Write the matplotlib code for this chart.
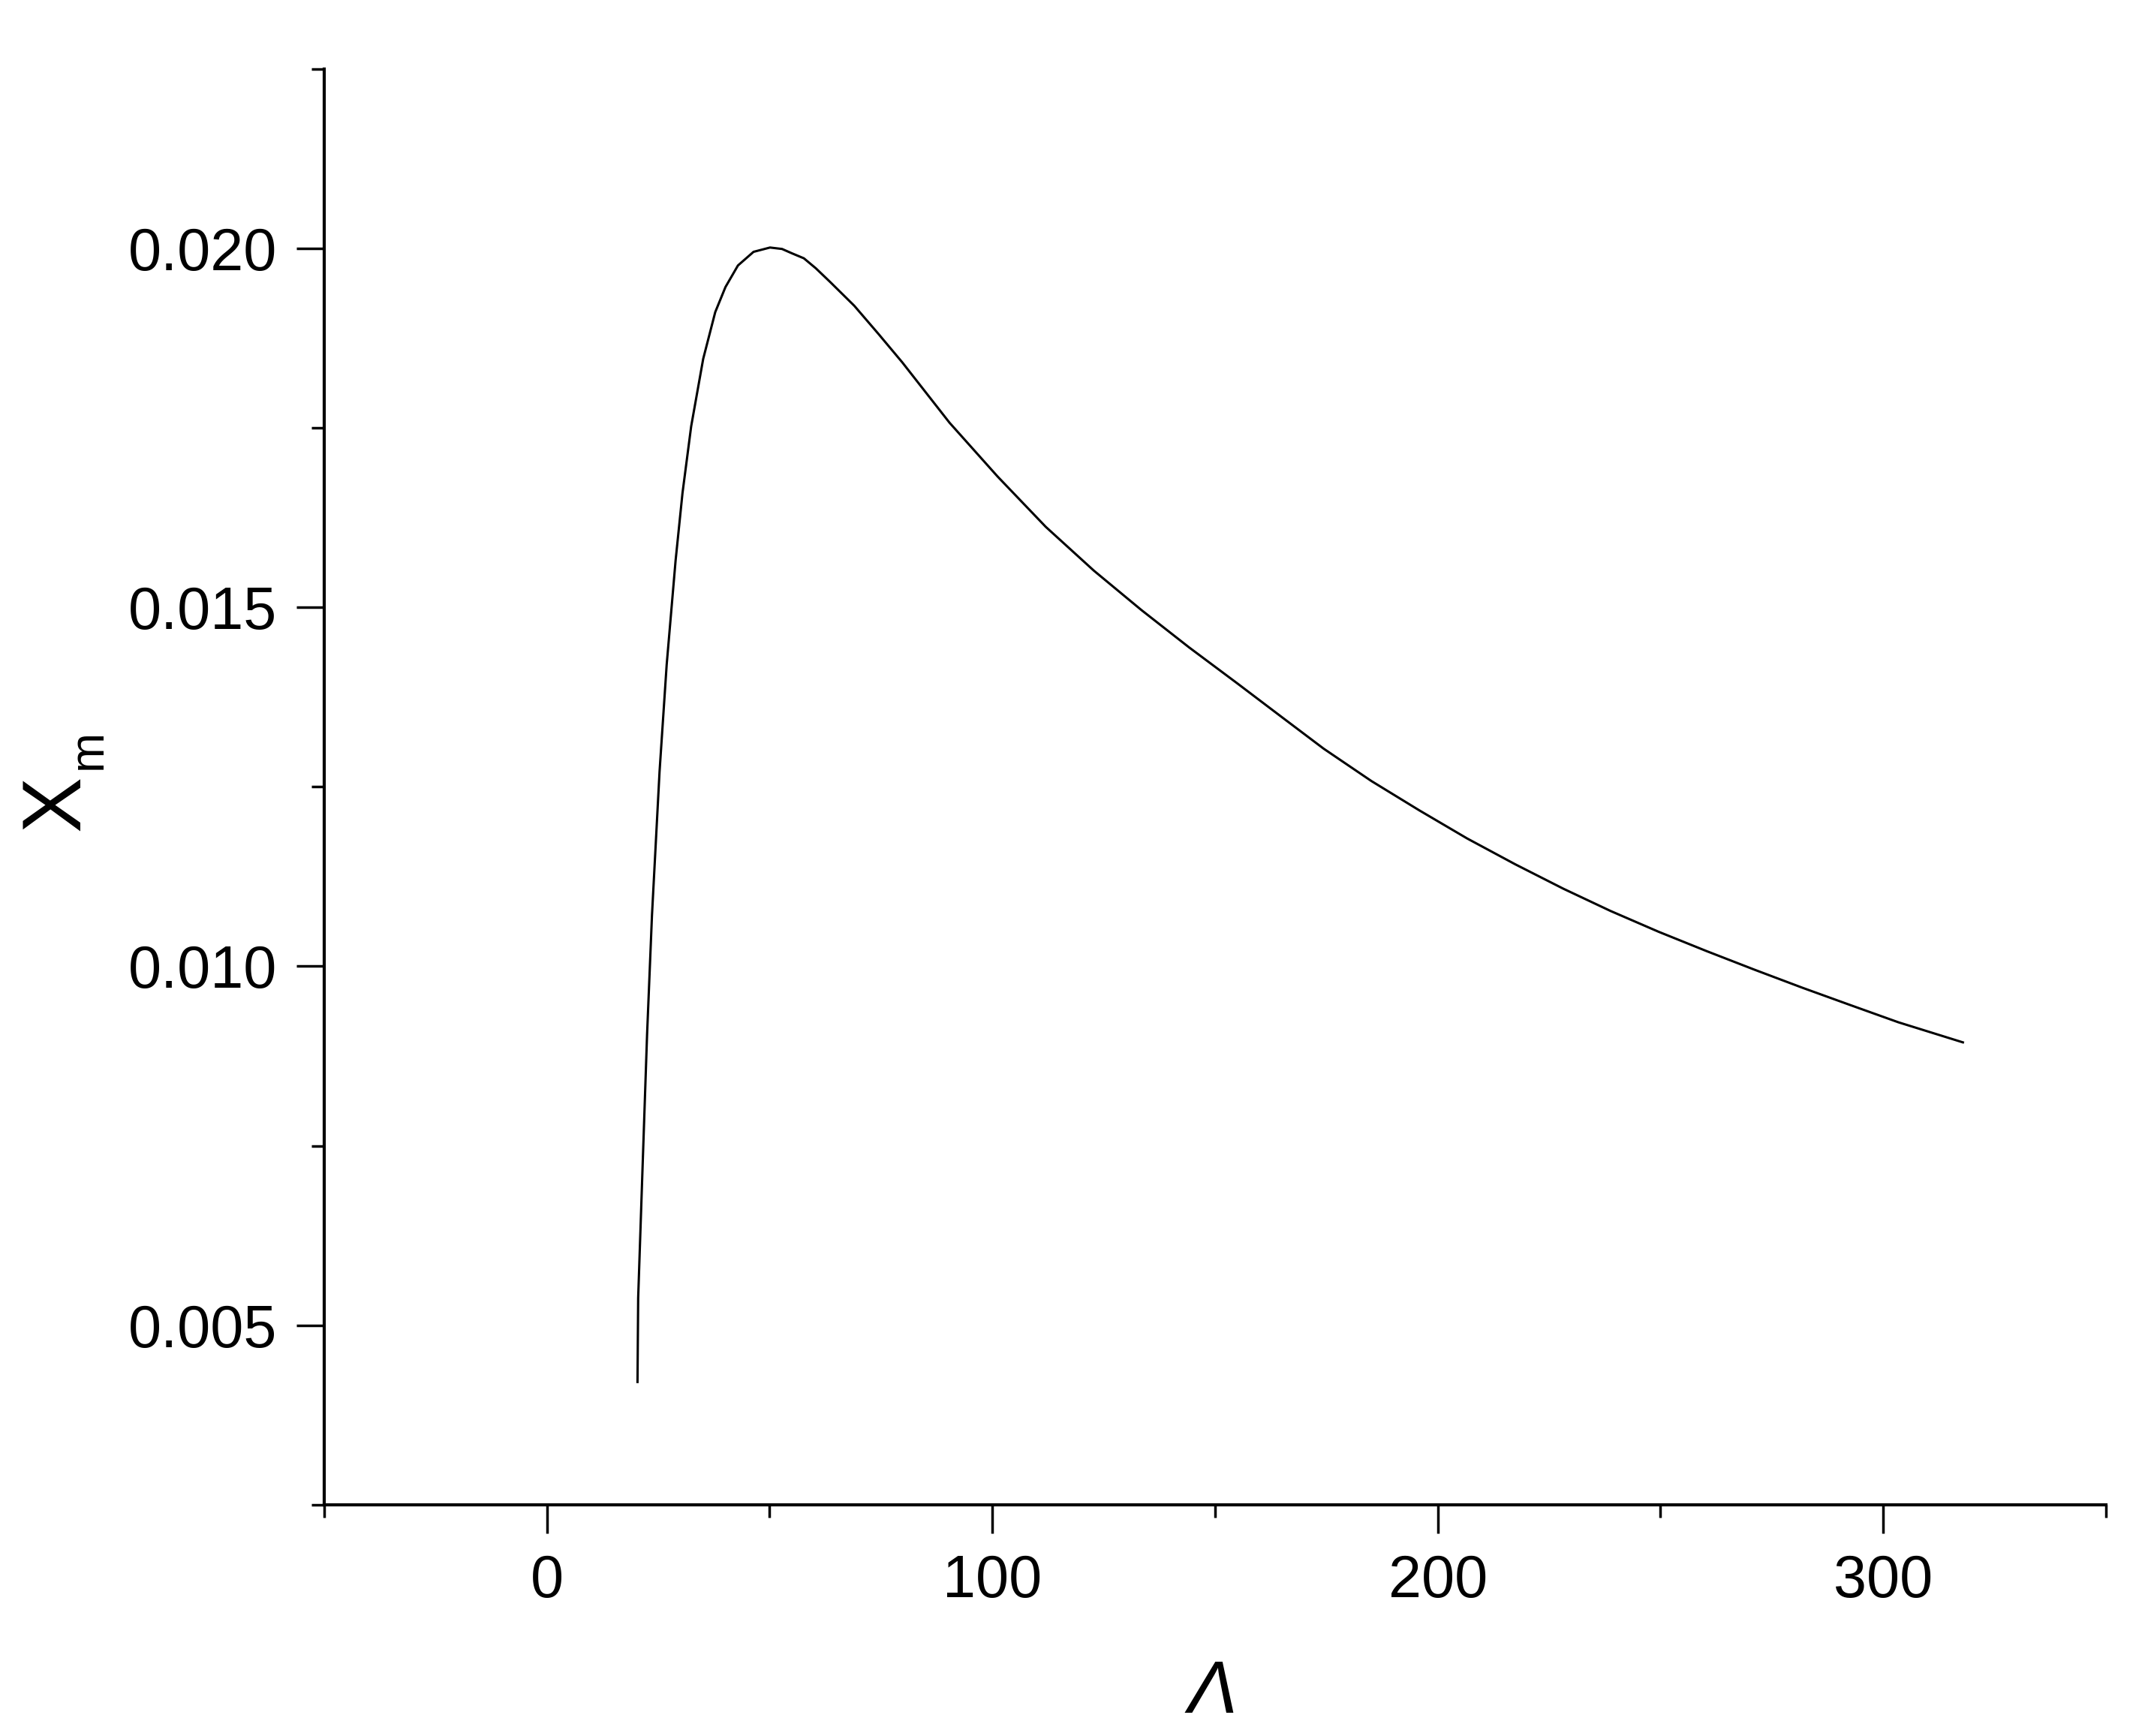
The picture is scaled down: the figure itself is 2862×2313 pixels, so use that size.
# Xm versus Lambda curve
import matplotlib
matplotlib.use('Agg')
import matplotlib.pyplot as plt
from matplotlib.ticker import MultipleLocator

# curve
lam = [20.35, 20.5, 21.4, 22.5, 23.6, 25.3, 26.9, 28.9, 30.45, 32.4, 35.1, 37.8,
       40.1, 42.9, 46.4, 50.1, 52.8, 55.0, 57.7, 60.4, 63.6, 69.0, 74.4, 79.8,
       90.4, 101.2, 112.0, 122.8, 133.5, 144.2, 155.0, 165.0, 174.4, 185.1,
       195.9, 206.6, 217.4, 228.2, 238.8, 249.6, 260.4, 271.2, 281.9, 292.6,
       303.4, 317.9]
xm = [0.00421, 0.00538, 0.00704, 0.00905, 0.01071, 0.01271, 0.0142, 0.01565,
      0.01659, 0.01752, 0.01846, 0.01911, 0.01946, 0.01976, 0.01995, 0.02001,
      0.01999, 0.01993, 0.01986, 0.01972, 0.01953, 0.01920, 0.01881, 0.01841,
      0.01757, 0.01682, 0.01612, 0.01551, 0.01496, 0.01444, 0.01394, 0.01347,
      0.01303, 0.01258, 0.01217, 0.01178, 0.01142, 0.01108, 0.01077, 0.01048,
      0.01021, 0.00995, 0.00970, 0.00946, 0.00922, 0.00894]

xticks = [0, 100, 200, 300]
yticks = [0.005, 0.010, 0.015, 0.020]
ytick_labels = ['0.005', '0.010', '0.015', '0.020']

plt.rcParams['font.family'] = ['Liberation Sans', 'DejaVu Sans']

fig = plt.figure(figsize=(28.62, 23.13), dpi=100)
ax = fig.add_axes([0.1509, 0.1332, 0.8295, 0.8272])

ax.plot(lam, xm, color='black', linewidth=2.2, solid_joinstyle='round')

ax.set_xlim(-50, 350)
ax.set_ylim(0.0025, 0.0225)

ax.spines['top'].set_visible(False)
ax.spines['right'].set_visible(False)
ax.spines['left'].set_linewidth(3)
ax.spines['bottom'].set_linewidth(3)

ax.set_xticks(xticks)
ax.set_xticklabels([str(t) for t in xticks])
ax.set_yticks(yticks)
ax.set_yticklabels(ytick_labels)
ax.xaxis.set_minor_locator(MultipleLocator(50))
ax.yaxis.set_minor_locator(MultipleLocator(0.0025))

ax.tick_params(which='major', direction='out', length=27, width=2.5, labelsize=57)
ax.tick_params(which='minor', direction='out', length=12.5, width=2.5)
ax.tick_params(axis='y', which='major', pad=18)
ax.tick_params(axis='x', which='major', pad=20)

# axis titles
fig.text(1615 / 2862, 1 - 2282 / 2313, 'Λ', fontsize=71, style='italic',
         ha='center', va='baseline')
fig.text(105 / 2862, 1 - 1070 / 2313, 'X', fontsize=80, rotation=90,
         rotation_mode='anchor', ha='center', va='baseline')
fig.text(135 / 2862, 1 - 998 / 2313, 'm', fontsize=46, rotation=90,
         rotation_mode='anchor', ha='center', va='baseline')

fig.savefig('out.png', dpi=100)
